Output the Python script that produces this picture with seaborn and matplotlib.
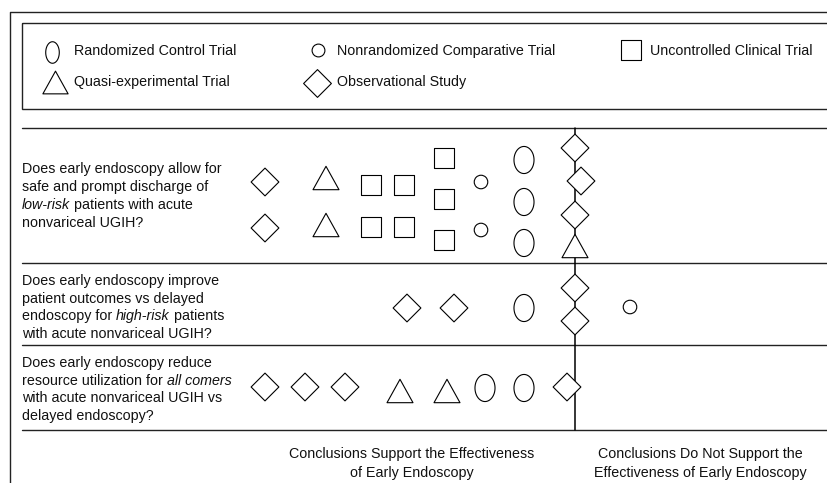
import numpy as np
import pandas as pd
import matplotlib
matplotlib.use("Agg")
import matplotlib.pyplot as plt
from matplotlib.path import Path
from matplotlib.patches import Rectangle
from matplotlib import font_manager
import seaborn as sns

# study designs (legend order)
design_codes = ["RCT", "NRC", "UCT", "QE", "OBS"]
design_labels = ["Randomized Control Trial", "Nonrandomized Comparative Trial",
                 "Uncontrolled Clinical Trial", "Quasi-experimental Trial",
                 "Observational Study"]

# one entry per study: design, question row, position on the evidence map
study_design = ["OBS", "OBS", "QE", "QE", "UCT", "UCT", "UCT", "UCT",
                "UCT", "UCT", "UCT", "NRC", "NRC", "RCT", "RCT", "RCT",
                "OBS", "OBS", "OBS", "QE",
                "OBS", "OBS", "RCT", "OBS", "OBS", "NRC",
                "OBS", "OBS", "OBS", "QE", "QE", "RCT", "RCT", "OBS"]
study_question = [1] * 20 + [2] * 6 + [3] * 8
study_x = [265, 265, 326, 326, 371, 371, 404, 404,
           444, 444, 444, 481, 481, 524, 524, 524,
           575, 581, 575, 575,
           407, 454, 524, 575, 575, 630,
           265, 305, 345, 400, 447, 485, 524, 567]
study_y = [182, 228, 178, 225, 185, 227, 185, 227,
           158, 199, 240, 182, 230, 160, 202, 243,
           148, 181, 215, 246,
           308, 308, 308, 288, 321, 307,
           387, 387, 387, 391, 391, 388, 388, 387]

questions = [
    ["Does early endoscopy allow for", "safe and prompt discharge of",
     [("low-risk", "italic"), (" patients with acute", "normal")], "nonvariceal UGIH?"],
    ["Does early endoscopy improve", "patient outcomes vs delayed",
     [("endoscopy for ", "normal"), ("high-risk", "italic"), (" patients", "normal")],
     "with acute nonvariceal UGIH?"],
    ["Does early endoscopy reduce",
     [("resource utilization for ", "normal"), ("all comers", "italic")],
     "with acute nonvariceal UGIH vs", "delayed endoscopy?"],
]
conclusion_labels = [["Conclusions Support the Effectiveness", "of Early Endoscopy"],
                     ["Conclusions Do Not Support the", "Effectiveness of Early Endoscopy"]]

df = pd.DataFrame({"design": study_design, "question": study_question,
                   "x": study_x, "y": study_y})


def poly_path(verts):
    verts = np.asarray(verts, dtype=float)
    return Path(np.vstack([verts, verts[:1]]), closed=True)


t = np.linspace(0, 2 * np.pi, 80)
ellipse_marker = Path(np.column_stack([0.74 * np.cos(t), np.sin(t)]), closed=True)
diamond_marker = poly_path([(0, 1), (1, 0), (0, -1), (-1, 0)])
square_marker = poly_path([(-1, -1), (1, -1), (1, 1), (-1, 1)])
triangle_marker = poly_path([(0, 0.9), (-1, -0.9), (1, -0.9)])

markers = {"RCT": ellipse_marker, "NRC": "o", "UCT": square_marker,
           "QE": triangle_marker, "OBS": diamond_marker}
sizes = {"RCT": 380, "NRC": 95, "UCT": 215, "QE": 350, "OBS": 400}

sns.set_theme(style="white")
names = {f.name for f in font_manager.fontManager.ttflist}
base_font = "Liberation Sans Narrow" if "Liberation Sans Narrow" in names else "Liberation Sans"
plt.rcParams["font.family"] = [base_font, "DejaVu Sans"]
FS = 10.3
TXT = "#111111"

fig = plt.figure(figsize=(8.27, 4.83), dpi=100)
ax = fig.add_axes([0, 0, 1, 1])

line_kw = dict(color="#222222", lw=1.0)
# outer frame and legend box
ax.plot([10, 10, 830], [490, 12, 12], **line_kw)
ax.add_patch(Rectangle((22, 23), 820, 86, fill=False, ec="#222222", lw=1.0))
# row separators and decision line
for yy in [128, 263, 345, 430]:
    ax.plot([22, 830], [yy, yy], **line_kw)
ax.plot([575, 575], [128, 430], color="black", lw=1.1)

sns.scatterplot(data=df, x="x", y="y", style="design", markers=markers,
                size="design", sizes=sizes, color="white", edgecolor="black",
                linewidth=0.8, legend=False, ax=ax, zorder=4)
ax.set_xlim(0, 827)
ax.set_ylim(483, 0)
ax.axis("off")

# legend
leg_pos = {"RCT": (52, 52, 74), "NRC": (318, 50, 337), "UCT": (631, 50, 650),
           "QE": (55, 82, 74), "OBS": (317, 83, 337)}
leg_sizes = {"RCT": 240, "NRC": 85, "UCT": 225, "QE": 330, "OBS": 400}
for code, label in zip(design_codes, design_labels):
    mx, my, tx = leg_pos[code]
    m = markers[code]
    if code == "RCT":
        m = Path(np.column_stack([0.63 * np.cos(t), np.sin(t)]), closed=True)
    ax.scatter([mx], [my], marker=m, s=leg_sizes[code], facecolor="white",
               edgecolor="black", linewidth=0.8, zorder=4)
    ty = 51 if my < 60 else 82
    ax.text(tx, ty, label, fontsize=FS, va="center", ha="left", color=TXT)

# question labels with italic fragments
fig.canvas.draw()
renderer = fig.canvas.get_renderer()
baselines = [[173, 191, 209, 227], [285, 303, 320, 338], [367, 385, 402, 420]]
for q, ys in zip(questions, baselines):
    for line, yb in zip(q, ys):
        parts = [(line, "normal")] if isinstance(line, str) else line
        x0 = 22
        for txt, style in parts:
            tt = ax.text(x0, yb, txt, fontsize=FS, style=style, va="baseline",
                         ha="left", color=TXT)
            bb = tt.get_window_extent(renderer)
            x0 += bb.width * 827 / fig.bbox.width

for cx, lines in zip([412, 700], conclusion_labels):
    for line, yb in zip(lines, [458, 477]):
        ax.text(cx, yb, line, fontsize=FS, ha="center", va="baseline", color=TXT)

fig.savefig("out.png", dpi=100)
